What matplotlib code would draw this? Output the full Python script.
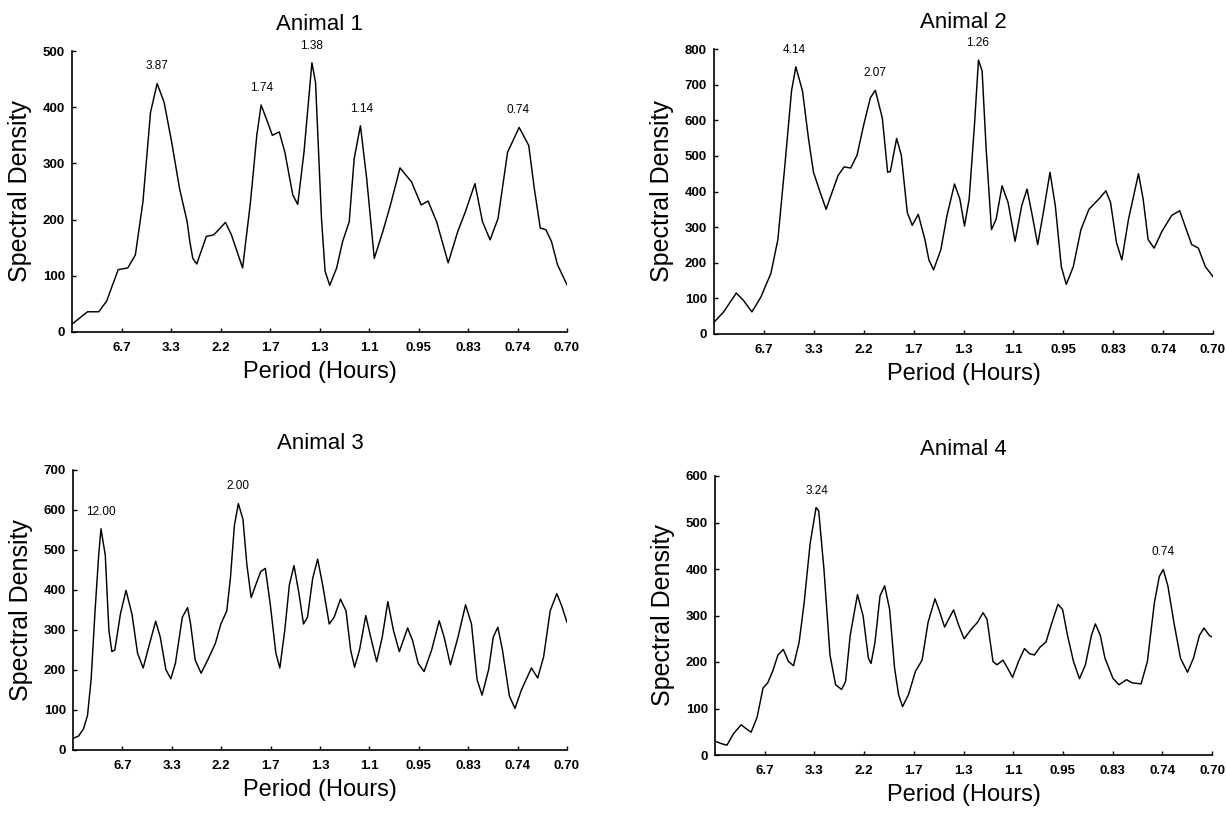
import numpy as np
import matplotlib.pyplot as plt

plt.rcParams['font.family'] = ['Liberation Sans', 'DejaVu Sans']

# Frequency axis (cycles/hour); tick labels are the corresponding periods
tick_freq = [0.15, 0.30, 0.45, 0.60, 0.75, 0.90, 1.05, 1.20, 1.35, 1.50]
tick_labels = ['6.7', '3.3', '2.2', '1.7', '1.3', '1.1', '0.95', '0.83', '0.74', '0.70']

# Animal 1
f1 = [0.000, 0.047, 0.081, 0.105, 0.140, 0.169, 0.192, 0.215, 0.238, 0.258, 0.279,
      0.302, 0.326, 0.349, 0.357, 0.366, 0.378, 0.407, 0.430, 0.465, 0.483, 0.517,
      0.541, 0.560, 0.573, 0.593, 0.607, 0.628, 0.645, 0.669, 0.684, 0.703, 0.727,
      0.738, 0.756, 0.767, 0.781, 0.802, 0.820, 0.840, 0.855, 0.874, 0.893, 0.916,
      0.942, 0.965, 0.994, 1.029, 1.058, 1.079, 1.105, 1.140, 1.169, 1.192, 1.221,
      1.244, 1.267, 1.291, 1.320, 1.355, 1.384, 1.401, 1.419, 1.436, 1.453, 1.471, 1.500]
d1 = [14, 36, 36, 55, 111, 114, 137, 232, 391, 442, 409,
      338, 255, 196, 161, 131, 121, 170, 173, 195, 173, 114,
      232, 350, 404, 373, 350, 356, 320, 244, 227, 320, 479,
      444, 202, 108, 83, 114, 161, 196, 308, 367, 273, 131,
      179, 226, 292, 267, 226, 233, 196, 123, 179, 214, 264,
      196, 164, 202, 320, 364, 332, 255, 185, 182, 161, 120, 84]

# Animal 2
f2 = [0.000, 0.029, 0.067, 0.088, 0.114, 0.141, 0.171, 0.192, 0.213, 0.233, 0.246,
      0.266, 0.284, 0.299, 0.319, 0.337, 0.355, 0.373, 0.391, 0.411, 0.430, 0.450,
      0.470, 0.485, 0.506, 0.522, 0.530, 0.549, 0.563, 0.581, 0.596, 0.614, 0.634,
      0.646, 0.660, 0.682, 0.700, 0.723, 0.739, 0.753, 0.767, 0.783, 0.795, 0.806,
      0.818, 0.834, 0.848, 0.866, 0.884, 0.905, 0.925, 0.941, 0.957, 0.973, 0.990,
      1.010, 1.026, 1.044, 1.059, 1.080, 1.103, 1.127, 1.157, 1.178, 1.192, 1.210,
      1.226, 1.246, 1.276, 1.290, 1.305, 1.323, 1.347, 1.376, 1.400, 1.416, 1.436,
      1.456, 1.477, 1.500]
d2 = [33, 62, 115, 95, 62, 104, 170, 265, 473, 682, 750,
      682, 549, 454, 398, 350, 398, 445, 469, 466, 502, 587,
      663, 684, 606, 454, 456, 549, 502, 341, 305, 336, 265,
      208, 180, 237, 331, 421, 379, 303, 379, 587, 769, 738,
      521, 293, 322, 416, 369, 260, 360, 407, 331, 251, 341,
      454, 360, 189, 139, 189, 293, 350, 379, 402, 369, 256,
      208, 322, 450, 379, 265, 241, 289, 333, 346, 303, 251,
      241, 189, 161]

# Animal 3
f3 = [0.000, 0.017, 0.032, 0.044, 0.055, 0.067, 0.078, 0.085, 0.098, 0.109, 0.118,
      0.127, 0.144, 0.161, 0.179, 0.196, 0.213, 0.230, 0.251, 0.265, 0.282, 0.297,
      0.311, 0.332, 0.348, 0.357, 0.371, 0.389, 0.409, 0.432, 0.449, 0.467, 0.478,
      0.490, 0.502, 0.516, 0.528, 0.541, 0.555, 0.570, 0.584, 0.599, 0.616, 0.628,
      0.643, 0.657, 0.671, 0.685, 0.700, 0.712, 0.728, 0.743, 0.758, 0.778, 0.793,
      0.812, 0.829, 0.843, 0.855, 0.870, 0.889, 0.904, 0.922, 0.939, 0.956, 0.973,
      0.991, 1.016, 1.031, 1.048, 1.066, 1.089, 1.112, 1.127, 1.146, 1.169, 1.192,
      1.210, 1.227, 1.242, 1.262, 1.276, 1.290, 1.304, 1.325, 1.342, 1.362, 1.392,
      1.411, 1.429, 1.449, 1.469, 1.484, 1.500]
d3 = [29, 35, 53, 86, 176, 348, 487, 553, 487, 299, 246,
      250, 340, 399, 340, 242, 205, 258, 322, 282, 201, 178,
      217, 332, 356, 315, 225, 192, 225, 266, 315, 348, 430,
      561, 616, 577, 463, 381, 413, 446, 454, 364, 242, 205,
      299, 413, 461, 397, 315, 332, 430, 477, 413, 315, 332,
      377, 348, 250, 207, 250, 336, 282, 221, 282, 371, 299,
      246, 305, 274, 217, 196, 250, 323, 282, 213, 282, 363,
      315, 176, 137, 201, 282, 307, 250, 135, 104, 151, 205,
      180, 233, 348, 391, 360, 319]

# Animal 4
f4 = [0.000, 0.017, 0.036, 0.056, 0.079, 0.095, 0.109, 0.127, 0.145, 0.159, 0.174,
      0.190, 0.206, 0.222, 0.237, 0.254, 0.269, 0.287, 0.305, 0.313, 0.329, 0.347,
      0.364, 0.382, 0.394, 0.408, 0.430, 0.447, 0.463, 0.471, 0.483, 0.498, 0.512,
      0.527, 0.542, 0.554, 0.566, 0.584, 0.605, 0.625, 0.643, 0.664, 0.679, 0.693,
      0.705, 0.720, 0.736, 0.752, 0.774, 0.792, 0.809, 0.821, 0.839, 0.851, 0.869,
      0.883, 0.898, 0.916, 0.934, 0.949, 0.964, 0.981, 0.999, 1.017, 1.035, 1.049,
      1.064, 1.082, 1.100, 1.118, 1.136, 1.148, 1.163, 1.177, 1.201, 1.219, 1.242,
      1.260, 1.286, 1.305, 1.326, 1.341, 1.353, 1.367, 1.385, 1.405, 1.426, 1.444,
      1.462, 1.476, 1.492, 1.500]
d4 = [30, 25, 21, 46, 65, 56, 49, 81, 144, 155, 180,
      215, 227, 201, 192, 243, 327, 454, 532, 525, 398, 215,
      151, 141, 158, 257, 345, 299, 208, 197, 243, 342, 364,
      313, 187, 130, 104, 130, 180, 204, 285, 336, 306, 275,
      292, 312, 278, 250, 271, 285, 306, 292, 201, 194, 204,
      187, 167, 201, 229, 218, 215, 232, 243, 285, 324, 313,
      257, 201, 164, 194, 257, 282, 257, 208, 165, 151, 162,
      155, 153, 201, 327, 384, 399, 363, 285, 208, 178, 208,
      257, 273, 257, 254]

titles = ['Animal 1', 'Animal 2', 'Animal 3', 'Animal 4']
freqs = [f1, f2, f3, f4]
dens = [d1, d2, d3, d4]
ymax = [500, 800, 700, 600]
# labelled peak periods (hours)
peaks = [['3.87', '1.74', '1.38', '1.14', '0.74'],
         ['4.14', '2.07', '1.26'],
         ['12.00', '2.00'],
         ['3.24', '0.74']]

W, H = 1226, 814
# axes boxes in pixels: left, top, right, bottom
boxes = [(72, 51, 567, 332), (714, 49, 1213, 334),
         (73, 470, 567, 750), (715, 476, 1212, 755)]

fig = plt.figure(figsize=(W / 100, H / 100), dpi=100)

for i in range(4):
    l, t, r, b = boxes[i]
    ax = fig.add_axes([l / W, 1 - b / H, (r - l) / W, (b - t) / H])
    f = np.array(freqs[i])
    d = np.array(dens[i])
    ax.plot(f, d, color='black', lw=1.05, solid_joinstyle='round')

    for p in peaks[i]:
        fp = 1 / float(p)
        near = np.abs(f - fp) < 0.025
        ax.annotate(p, xy=(fp, d[near].max()), xytext=(0, 8), textcoords='offset points',
                    ha='center', va='bottom', fontsize=8.5)

    ax.set_xlim(0, 1.5)
    ax.set_ylim(0, ymax[i])
    ax.set_xticks(tick_freq)
    ax.set_xticklabels(tick_labels)
    ax.set_yticks(np.arange(0, ymax[i] + 1, 100))
    ax.tick_params(direction='in', length=3, width=1, labelsize=9.5)
    ax.tick_params(axis='x', pad=7)
    ax.tick_params(axis='y', pad=5)
    for lab in ax.get_xticklabels() + ax.get_yticklabels():
        lab.set_fontweight('bold')
    ax.spines['top'].set_visible(False)
    ax.spines['right'].set_visible(False)
    ax.spines['left'].set_linewidth(1.2)
    ax.spines['bottom'].set_linewidth(1.2)

    ax.set_title(titles[i], fontsize=16, pad=15)
    ax.set_xlabel('Period (Hours)', fontsize=17, labelpad=5)
    ax.set_ylabel('Spectral Density', fontsize=18, labelpad=8)

fig.savefig('out.png', dpi=100)
